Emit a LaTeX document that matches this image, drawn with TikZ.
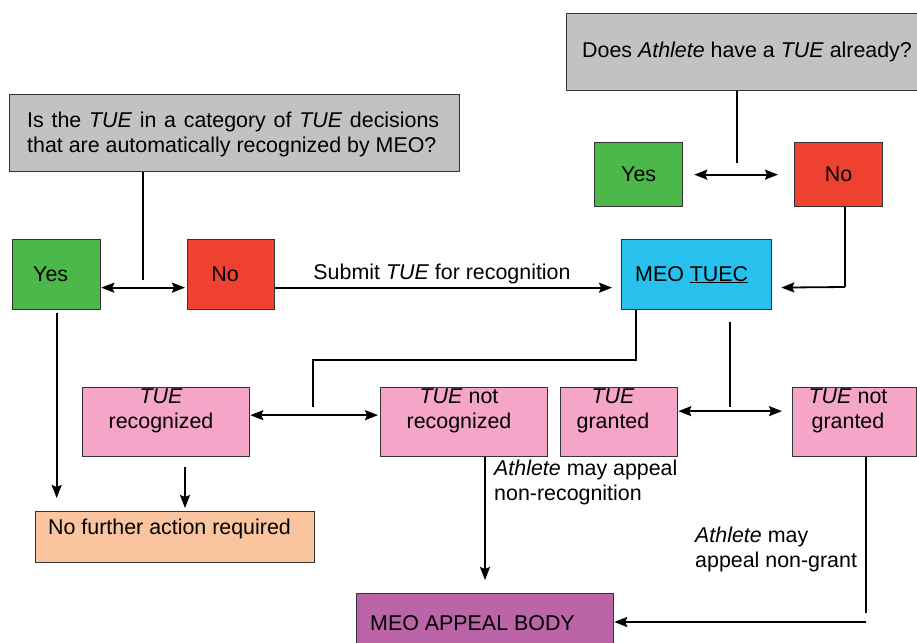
\documentclass[tikz,border=0pt]{standalone}
\usepackage{fontspec}
\setmainfont{Liberation Sans}
\usetikzlibrary{arrows.meta}
\definecolor{qgray}{HTML}{C0C2C4}
\definecolor{ygreen}{HTML}{4CB849}
\definecolor{nred}{HTML}{EF4130}
\definecolor{tcyan}{HTML}{28C1EE}
\definecolor{tpink}{HTML}{F4A5C8}
\definecolor{npeach}{HTML}{FAC59E}
\definecolor{apurple}{HTML}{BB65A8}
\definecolor{bord}{HTML}{333333}
\tikzset{
  box/.style={draw=bord, line width=1.3pt, anchor=north west, inner sep=0pt},
  bigfont/.style={font=\fontsize{21.4}{25}\selectfont},
  txt/.style={inner sep=0pt, bigfont},
  plain/.style={line width=1.3pt, black},
  arr/.style={line width=1.8pt, black, -{Stealth[length=13pt,width=10pt,inset=2pt]}},
  dbl/.style={line width=1.8pt, black, {Stealth[length=13pt,width=10pt,inset=2pt]}-{Stealth[length=13pt,width=10pt,inset=2pt]}},
}
\begin{document}
\begin{tikzpicture}[x=1pt,y=-1pt]
\useasboundingbox (0,0) rectangle (917,642);
% boxes
\node[box, fill=qgray, minimum width=351, minimum height=77] (q1) at (566,13) {};
\node[txt] (q1t) at (747,52) {Does \textit{Athlete} have a \textit{TUE} already?};
\node[box, fill=qgray, minimum width=450, minimum height=77] (q2) at (9,94) {};
\node[txt, anchor=west, align=left] (q2t) at (27,134) {\makebox[412pt][s]{Is the \textit{TUE} in a category of \textit{TUE} decisions}\\that are automatically recognized by MEO?};
\node[box, fill=ygreen, minimum width=88, minimum height=70, bigfont] (yes1) at (12,239) {Yes\kern12pt};
\node[box, fill=nred, minimum width=87, minimum height=70, bigfont] (no1) at (187,239) {No\kern12pt};
\node[box, fill=ygreen, minimum width=88, minimum height=64, bigfont] (yes2) at (594,142) {Yes};
\node[box, fill=nred, minimum width=88, minimum height=64, bigfont] (no2) at (794,142) {No};
\node[box, fill=tcyan, minimum width=150, minimum height=70, bigfont] (tuec) at (621,239) {MEO \underline{TUEC}\kern10pt};
\node[box, fill=tpink, minimum width=167, minimum height=69] (rec) at (82,387) {};
\node[txt, align=center] (rect) at (161,411) {\textit{TUE}\\recognized};
\node[box, fill=tpink, minimum width=167, minimum height=69] (notrec) at (380,387) {};
\node[txt, align=center] (notrect) at (459,411) {\textit{TUE} not\\recognized};
\node[box, fill=tpink, minimum width=117, minimum height=69] (gra) at (560,387) {};
\node[txt, align=center] (grat) at (613,411) {\textit{TUE}\\granted};
\node[box, fill=tpink, minimum width=124, minimum height=69] (notgra) at (792,387) {};
\node[txt, align=center] (notgrat) at (848,411) {\textit{TUE} not\\granted};
\node[box, fill=npeach, minimum width=279, minimum height=51] (nfa) at (35,511) {};
\node[txt, anchor=west] (nfat) at (48,529) {No further action required};
\node[box, fill=apurple, minimum width=257, minimum height=60] (appeal) at (356,593) {};
\node[txt, anchor=west] (appealt) at (370,623) {MEO APPEAL BODY};
% labels
\node[txt] (sublab) at (442,274) {Submit \textit{TUE} for recognition};
\node[txt, anchor=west, align=left] (lab1) at (494,482) {\textit{Athlete} may appeal\\non-recognition};
\node[txt, anchor=west, align=left] (lab2) at (695,549) {\textit{Athlete} may\\appeal non-grant};
% junction coordinates
\coordinate (j1) at (143,280);
\coordinate (j2) at (737,163);
\coordinate (c2) at (845,287);
\coordinate (j3a) at (636,360);
\coordinate (j3b) at (313,360);
\coordinate (j3c) at (313,407);
\coordinate (j4a) at (730,322);
\coordinate (j4b) at (730,407);
\coordinate (k1) at (185,467);
\coordinate (k2) at (485,500);
\coordinate (k3) at (866,613);
\coordinate (k4) at (866,622);
% connectors
\draw[plain] (q2.south -| j1) -- (j1);
\draw[dbl] ([yshift=-13pt]yes1.east) -- ([yshift=-13pt,xshift=-2pt]no1.west);
\draw[arr, shorten >=9pt] ([yshift=-13pt]no1.east) -- ([yshift=-13pt]tuec.west);
\draw[plain] (q1.south -| j2) -- (j2);
\draw[dbl] ([xshift=11pt]yes2.east) -- ([xshift=-16pt]no2.west);
\draw[plain] (no2.south -| c2) -- (c2);
\draw[arr, shorten >=9pt] (c2) -- ([yshift=-13pt]tuec.east);
\draw[plain] (tuec.south -| j3a) -- (j3a) -- (j3b) -- (j3c);
\draw[dbl] ([yshift=7pt]rec.east) -- ([yshift=7pt,xshift=-2pt]notrec.west);
\draw[plain] (j4a) -- (j4b);
\draw[dbl] ([yshift=11pt]gra.east) -- ([yshift=11pt,xshift=-10pt]notgra.west);
\draw[arr, shorten <=3pt, shorten >=13pt] (yes1.south) -- (yes1.south |- nfa.north);
\draw[arr, shorten >=3pt] (k1) -- (k1 |- nfa.north);
\draw[arr, shorten >=13pt] (notrec.south -| k2) -- (k2 |- appeal.north);
\draw[plain] (notgra.south -| k3) -- (k3);
\draw[arr] (k4) -- (appeal.east |- k4);
\end{tikzpicture}
\end{document}
